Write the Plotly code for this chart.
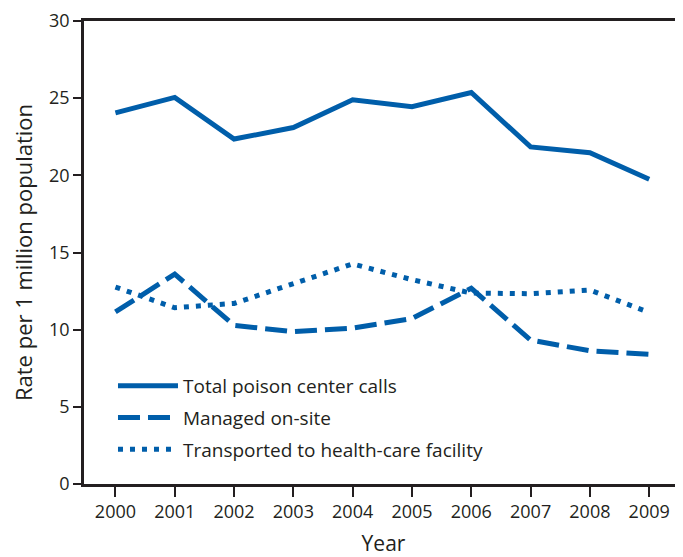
import plotly.graph_objects as go

years = [2000, 2001, 2002, 2003, 2004, 2005, 2006, 2007, 2008, 2009]
total_calls = [24.05, 25.05, 22.35, 23.1, 24.9, 24.45, 25.37, 21.84, 21.47, 19.75]
managed_onsite = [11.15, 13.6, 10.28, 9.87, 10.1, 10.72, 12.68, 9.33, 8.63, 8.4]
transported = [12.76, 11.42, 11.7, 12.95, 14.26, 13.24, 12.37, 12.33, 12.57, 11.12]

series_names = ["Total poison center calls", "Managed on-site", "Transported to health-care facility"]
y_ticks = [0, 5, 10, 15, 20, 25, 30]

color = "#005EAA"
ink = "#231F20"
font_family = "Open Sans, Lato, sans-serif"

fig = go.Figure()
fig.add_trace(go.Scatter(x=years, y=total_calls, mode="lines", name=series_names[0], legendgroup="a",
                         line=dict(color=color, width=5, dash="solid")))
fig.add_trace(go.Scatter(x=years, y=managed_onsite, mode="lines", name=series_names[1], legendgroup="b",
                         line=dict(color=color, width=5, dash="22px,8px")))
fig.add_trace(go.Scatter(x=years, y=transported, mode="lines", name=series_names[2], legendgroup="c",
                         line=dict(color=color, width=5, dash="5px,7px")))

# page body has an 8px default margin; figure is sized so the plot lands where the reference has it
fig.update_layout(
    width=675, height=549,
    margin=dict(l=76, r=0, t=13, b=73),
    paper_bgcolor="white", plot_bgcolor="white",
    font=dict(family=font_family, size=18, color=ink),
    showlegend=True,
    legend=dict(x=0.0484, y=0.2527, xanchor="left", yanchor="top",
                bgcolor="rgba(0,0,0,0)", font=dict(size=19, color=ink),
                itemwidth=60, tracegroupgap=4),
    xaxis=dict(range=[1999.47, 2009.57], tickvals=years, ticktext=[str(y) for y in years],
               showline=True, linecolor=ink, linewidth=2.5, mirror=True,
               ticks="outside", ticklen=10, tickwidth=2, tickcolor=ink,
               showgrid=False, zeroline=False, automargin=False,
               title=dict(text="Year", standoff=22, font=dict(size=21)),
               tickfont=dict(size=18)),
    yaxis=dict(range=[0, 30], tickvals=y_ticks,
               showline=True, linecolor=ink, linewidth=2.5,
               ticks="outside", ticklen=8, tickwidth=2, tickcolor=ink,
               showgrid=False, zeroline=False, automargin=False,
               title=dict(text="Rate per 1 million population", standoff=16, font=dict(size=22)),
               tickfont=dict(size=18)),
)

fig.write_html("out.html")
